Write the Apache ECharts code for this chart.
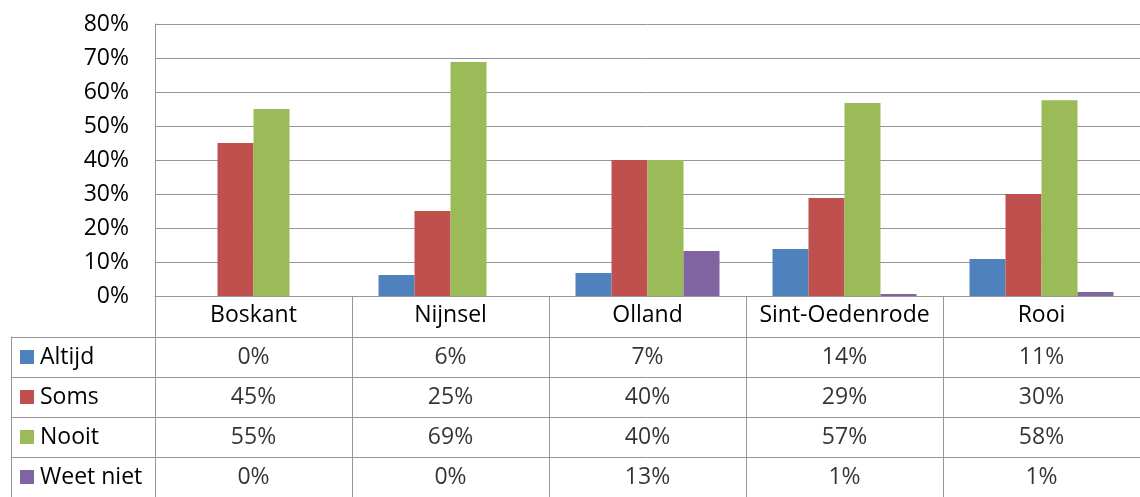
<!DOCTYPE html>
<html lang="nl">
<head>
    <meta charset="UTF-8">
    <title>Altijd / Soms / Nooit</title>
    <script src="https://cdn.jsdelivr.net/npm/echarts@6/dist/echarts.min.js"></script>
    <style>
        html, body { margin: 0; padding: 0; background: #fff; }
        #main { width: 1140px; height: 497px; }
    </style>
</head>
<body>
<div id="main"></div>
<script type="text/javascript">
    // categorieen en waarden (in procenten)
    var categories = ['Boskant', 'Nijnsel', 'Olland', 'Sint-Oedenrode', 'Rooi'];
    var seriesNames = ['Altijd', 'Soms', 'Nooit', 'Weet niet'];
    var altijd   = [0, 6.2, 6.8, 13.8, 10.9];
    var soms     = [45, 25, 40, 28.8, 30];
    var nooit    = [55, 68.8, 40, 56.8, 57.6];
    var weetNiet = [0, 0, 13.2, 0.6, 1.2];
    var colors = ['#4F81BD', '#C0504D', '#9BBB59', '#8064A2'];

    var allValues = [altijd, soms, nooit, weetNiet];
    var font = '"Open Sans", "Liberation Sans", sans-serif';
    var lineColor = '#969696';
    var fs = 23;

    // staafseries
    var bars = [];
    for (var s = 0; s < allValues.length; s++) {
        bars.push({
            name: seriesNames[s],
            type: 'bar',
            xAxisIndex: 0,
            yAxisIndex: 0,
            barWidth: 36,
            barGap: '0%',
            itemStyle: { color: colors[s] },
            data: allValues[s]
        });
    }

    // tabelcellen (tekst)
    var cells = [];
    for (var r = 0; r < allValues.length; r++) {
        for (var i = 0; i < categories.length; i++) {
            cells.push([i, r, allValues[r][i]]);
        }
    }

    // legendasymbolen in de linker kolom
    var rich = { t: { fontSize: fs, fontFamily: font, color: '#000', padding: [0, 0, 0, 6] } };
    for (var k = 0; k < colors.length; k++) {
        rich['s' + k] = { backgroundColor: colors[k], width: 14, height: 14 };
    }

    var chart = echarts.init(document.getElementById('main'));
    chart.setOption({
        animation: false,
        textStyle: { fontFamily: font },
        grid: [
            { left: 155, right: 0, top: 24, height: 272 },
            { left: 155, right: 0, top: 337, height: 166 }
        ],
        xAxis: [{
            gridIndex: 0,
            type: 'category',
            data: categories,
            axisLine: { lineStyle: { color: lineColor, width: 1 } },
            axisTick: { show: true, interval: 0, length: 41, lineStyle: { color: lineColor } },
            axisLabel: { interval: 0, fontSize: fs, color: '#000', fontFamily: font, margin: 8 }
        }, {
            gridIndex: 1,
            type: 'category',
            position: 'top',
            data: categories,
            axisLine: { show: true, lineStyle: { color: lineColor } },
            axisTick: { show: false },
            axisLabel: { show: false },
            splitLine: { show: true, interval: 0, lineStyle: { color: lineColor } }
        }],
        yAxis: [{
            gridIndex: 0,
            type: 'value',
            min: 0,
            max: 80,
            interval: 10,
            axisLine: { show: true, lineStyle: { color: lineColor } },
            axisTick: { show: false },
            axisLabel: { formatter: '{value}%', fontSize: fs, color: '#000', fontFamily: font, margin: 26 },
            splitLine: { lineStyle: { color: lineColor, width: 1 } }
        }, {
            gridIndex: 1,
            type: 'category',
            inverse: true,
            data: seriesNames,
            axisLine: { show: true, lineStyle: { color: lineColor } },
            axisTick: { show: true, interval: 0, length: 144, lineStyle: { color: lineColor } },
            axisLabel: {
                interval: 0,
                align: 'left',
                margin: 135,
                formatter: function (value, index) {
                    return '{s' + index + '|}{t|' + value + '}';
                },
                rich: rich
            },
            splitLine: { show: true, interval: 0, lineStyle: { color: lineColor } }
        }, {
            // linkerrand van de legendakolom
            gridIndex: 1,
            type: 'category',
            position: 'left',
            offset: 144,
            inverse: true,
            data: seriesNames,
            axisLine: { show: true, lineStyle: { color: lineColor } },
            axisTick: { show: false },
            axisLabel: { show: false }
        }],
        series: bars.concat([{
            type: 'scatter',
            xAxisIndex: 1,
            yAxisIndex: 1,
            symbolSize: 0,
            silent: true,
            label: {
                show: true,
                position: 'inside',
                fontSize: fs,
                fontFamily: font,
                color: '#000',
                formatter: function (p) { return Math.round(p.value[2]) + '%'; }
            },
            data: cells
        }])
    });
</script>
</body>
</html>
